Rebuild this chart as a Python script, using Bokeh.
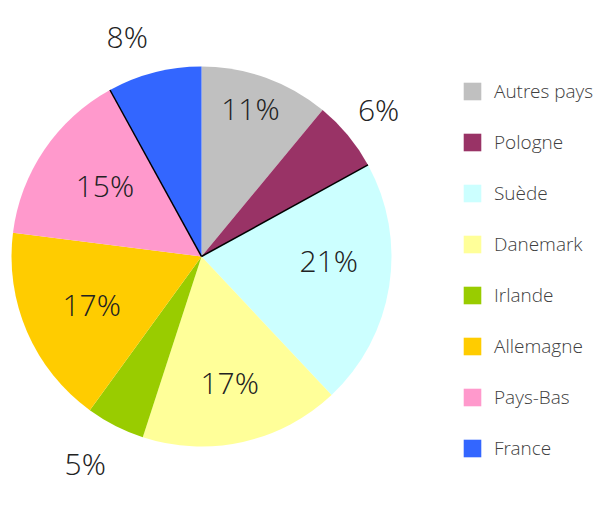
import numpy as np
from bokeh.plotting import figure
from bokeh.models import ColumnDataSource, Legend, LegendItem, Range1d
from bokeh.core.properties import value
from bokeh.embed import file_html
from bokeh.resources import INLINE

# ---- data ----
countries = ["Autres pays", "Pologne", "Suède", "Danemark", "Irlande", "Allemagne", "Pays-Bas", "France"]
shares = [11, 6, 21, 17, 5, 17, 15, 8]
colors = ["#C0C0C0", "#993366", "#CCFFFF", "#FFFF99", "#99CC00", "#FFCC00", "#FF99CC", "#3366FF"]
# label placement (style): distance from centre as fraction of radius, and angle nudge in degrees
label_r = [0.82, 1.21, 0.67, 0.68, 1.25, 0.63, 0.63, 1.22]
label_da = [1.5, 0.0, 7.2, 0.0, -2.3, 0.0, -2.0, 4.3]
# slice boundaries drawn with a dark edge (end of these slices)
dark_edges = ["Pologne", "Pays-Bas"]

W, H = 597, 507
CX, CY, R = 201, H - 256, 190

vals = np.array(shares, dtype=float)
frac = vals / vals.sum()
cum = np.cumsum(frac)
prev = np.concatenate([[0], cum[:-1]])
a_start = np.pi / 2 - 2 * np.pi * prev
a_end = np.pi / 2 - 2 * np.pi * cum
mid = (a_start + a_end) / 2 + np.radians(label_da)

FONT = "'Open Sans Light', 'Open Sans', sans-serif"

src = ColumnDataSource(dict(
    country=countries, color=colors,
    start=a_end, end=a_start,
    lx=CX + np.array(label_r) * R * np.cos(mid),
    ly=CY + np.array(label_r) * R * np.sin(mid),
    label=[f"{v}%" for v in shares],
))

p = figure(width=W, height=H, output_backend="svg", toolbar_location=None,
           x_range=Range1d(0, W), y_range=Range1d(0, H), min_border=0)
p.axis.visible = False
p.grid.visible = False
p.outline_line_color = None
p.background_fill_color = "white"

r = p.wedge(x=CX, y=CY, radius=R, start_angle="start", end_angle="end",
            fill_color="color", line_color=None, source=src)

# dark edges
ea = [a_end[countries.index(c)] for c in dark_edges]
p.segment(x0=[CX] * len(ea), y0=[CY] * len(ea),
          x1=[CX + R * np.cos(a) for a in ea], y1=[CY + R * np.sin(a) for a in ea],
          line_color="black", line_width=1.5)

p.text(x="lx", y="ly", text="label", source=src, text_align="center",
       text_baseline="middle", text_font=value(FONT),
       text_font_size="30px", text_color="#222222")

items = [LegendItem(label=c, renderers=[r], index=i) for i, c in enumerate(countries)]
legend = Legend(items=items, location=(461, 46), orientation="vertical",
                glyph_width=22, glyph_height=22, label_standoff=11, spacing=25,
                padding=0, margin=0, border_line_color=None,
                background_fill_alpha=0, label_text_font=FONT,
                label_text_font_size="19px", label_text_color="#404040")
p.add_layout(legend)

open("out.html", "w").write(file_html(p, INLINE))
